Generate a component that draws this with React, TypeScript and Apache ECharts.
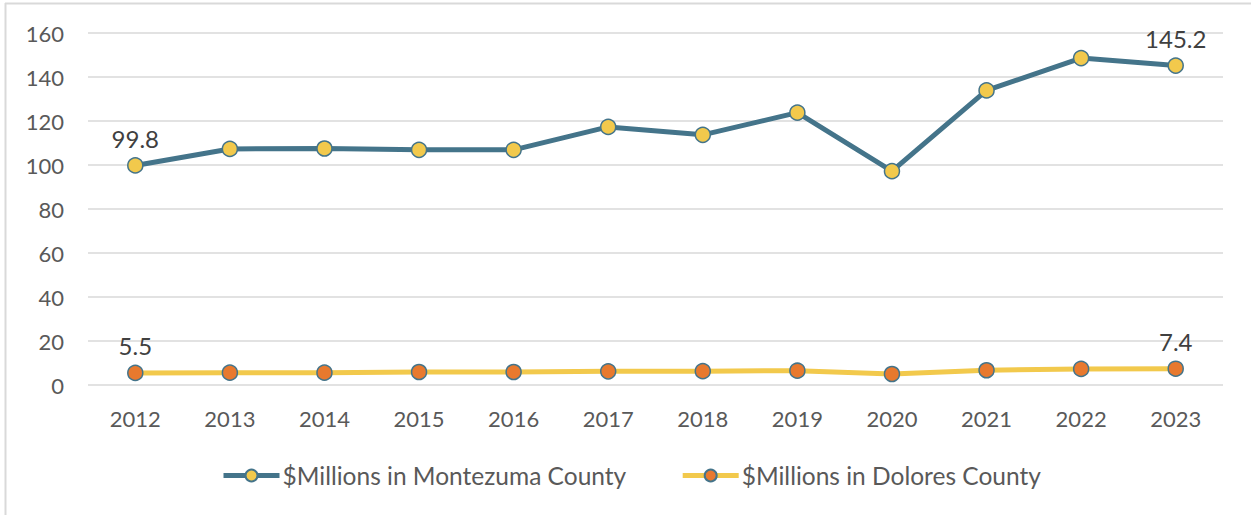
import React, { useEffect, useRef } from "react";
import * as echarts from "echarts";

const years = ["2012", "2013", "2014", "2015", "2016", "2017", "2018", "2019", "2020", "2021", "2022", "2023"];
const montezuma = [99.8, 107.3, 107.5, 106.9, 106.9, 117.3, 113.7, 123.8, 97.2, 133.9, 148.6, 145.2];
const dolores = [5.5, 5.6, 5.6, 5.9, 5.9, 6.2, 6.3, 6.5, 5.0, 6.7, 7.3, 7.4];
const seriesNames = ["$Millions in Montezuma County", "$Millions in Dolores County"];

const FONT = "Lato";
const TEAL = "#44748A";
const YELLOW = "#F2C94C";
const ORANGE = "#E8792E";

export default function App() {
  const ref = useRef<HTMLDivElement>(null);
  useEffect(() => {
    document.body.style.margin = "0";
    const chart = echarts.init(ref.current!, null, { renderer: "svg" });
    const lastIdx = years.length - 1;
    const labelFor = (p: any) => (p.dataIndex === 0 || p.dataIndex === lastIdx ? String(p.value) : "");
    chart.setOption({
      animation: false,
      backgroundColor: "#ffffff",
      grid: { left: 88, right: 28, top: 33, bottom: 130 },
      xAxis: {
        type: "category",
        data: years,
        boundaryGap: true,
        axisLine: { show: false },
        axisTick: { show: false },
        axisLabel: { color: "#595959", fontFamily: FONT, fontSize: 22, margin: 22 },
      },
      yAxis: {
        type: "value",
        min: 0,
        max: 160,
        interval: 20,
        axisLine: { show: false },
        axisTick: { show: false },
        splitLine: { lineStyle: { color: "#D9D9D9", width: 1.5 } },
        axisLabel: { color: "#595959", fontFamily: FONT, fontSize: 22, margin: 24 },
      },
      legend: {
        bottom: 22,
        left: 216,
        itemWidth: 56,
        itemHeight: 15,
        itemGap: 54,
        lineStyle: { width: 5 },
        textStyle: { color: "#595959", fontFamily: FONT, fontSize: 24.5, padding: [0, 0, 0, -2] },
        data: seriesNames,
      },
      series: [
        {
          name: seriesNames[0],
          type: "line",
          data: montezuma,
          symbol: "circle",
          symbolSize: 15,
          lineStyle: { color: TEAL, width: 5 },
          itemStyle: { color: YELLOW, borderColor: TEAL, borderWidth: 1.5 },
          label: {
            show: true,
            position: "top",
            distance: 7,
            formatter: labelFor,
            color: "#404040",
            fontFamily: FONT,
            fontSize: 24,
          },
        },
        {
          name: seriesNames[1],
          type: "line",
          data: dolores,
          symbol: "circle",
          symbolSize: 15,
          lineStyle: { color: YELLOW, width: 5 },
          itemStyle: { color: ORANGE, borderColor: TEAL, borderWidth: 1.5 },
          label: {
            show: true,
            position: "top",
            distance: 7,
            formatter: labelFor,
            color: "#404040",
            fontFamily: FONT,
            fontSize: 24,
          },
        },
      ],
      graphic: [
        { type: "line", shape: { x1: 5, y1: 3.5, x2: 1251, y2: 3.5 }, style: { stroke: "#D9D9D9", lineWidth: 2 }, silent: true },
        { type: "line", shape: { x1: 5.5, y1: 3, x2: 5.5, y2: 515 }, style: { stroke: "#D9D9D9", lineWidth: 2 }, silent: true },
      ],
    });
    return () => chart.dispose();
  }, []);
  return <div ref={ref} style={{ position: "fixed", left: 0, top: 0, width: 1251, height: 515 }} />;
}
